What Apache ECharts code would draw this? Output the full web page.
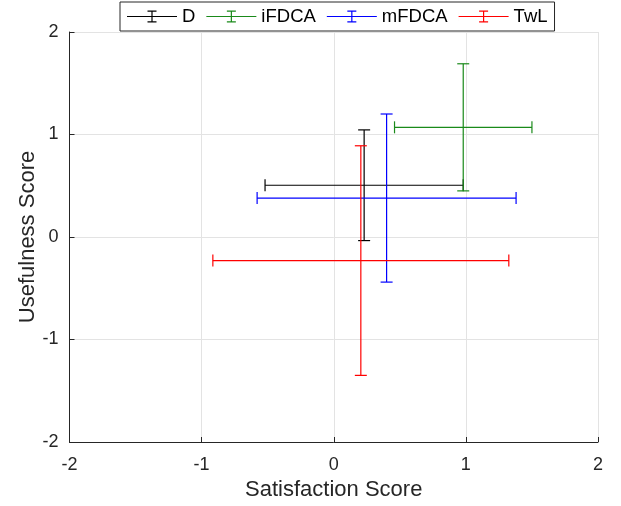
<!DOCTYPE html>
<html><head><meta charset="utf-8">
<script src="https://cdn.jsdelivr.net/npm/echarts@6/dist/echarts.min.js"></script>
<style>html,body{margin:0;padding:0;background:#fff}#c{width:621px;height:506px}</style>
</head><body><div id="c"></div>
<script>
const seriesNames = ['D', 'iFDCA', 'mFDCA', 'TwL'];
const seriesColors = ['#000000', '#1a8a1a', '#0000ff', '#ff0000'];
const xCenter = [0.23, 0.98, 0.40, 0.205];
const yCenter = [0.505, 1.07, 0.38, -0.23];
const xErr = [0.75, 0.52, 0.98, 1.12];
const yErr = [0.54, 0.62, 0.82, 1.12];
const xTicks = [-2, -1, 0, 1, 2];
const yTicks = [-2, -1, 0, 1, 2];
const xTitle = 'Satisfaction Score';
const yTitle = 'Usefulness Score';

const FONT = '"Liberation Sans", Arial, Helvetica, sans-serif';
const AXC = '#262626';

// legend icon: line with an errorbar "I" in the middle (50 x 14 box)
const legendIcon = 'path://M0,6.4L50,6.4L50,7.6L0,7.6Z' +
  'M24.4,1L25.6,1L25.6,13L24.4,13Z' +
  'M20.5,1L29.5,1L29.5,2.3L20.5,2.3Z' +
  'M20.5,11.7L29.5,11.7L29.5,13L20.5,13Z' +
  'M0,0L0.01,0L0.01,14L0,14Z';

function renderItem(params, api) {
  const x = api.value(0), y = api.value(1), ex = api.value(2), ey = api.value(3);
  const color = api.visual('color');
  const l = api.coord([x - ex, y]), r = api.coord([x + ex, y]);
  const t = api.coord([x, y + ey]), b = api.coord([x, y - ey]);
  const cap = 6;
  const st = { stroke: color, lineWidth: 1.2, fill: null };
  const ln = (x1, y1, x2, y2) => ({ type: 'line', shape: { x1, y1, x2, y2 }, style: st });
  return {
    type: 'group',
    children: [
      ln(l[0], l[1], r[0], r[1]),
      ln(l[0], l[1] - cap, l[0], l[1] + cap),
      ln(r[0], r[1] - cap, r[0], r[1] + cap),
      ln(t[0], t[1], b[0], b[1]),
      ln(t[0] - cap, t[1], t[0] + cap, t[1]),
      ln(b[0] - cap, b[1], b[0] + cap, b[1])
    ]
  };
}

const series = seriesNames.map((n, i) => ({
  name: n,
  type: 'custom',
  renderItem: renderItem,
  itemStyle: { color: seriesColors[i] },
  data: [[xCenter[i], yCenter[i], xErr[i], yErr[i]]],
  encode: { x: 0, y: 1 },
  clip: false
}));

function axisCommon(ticks, margin) {
  return {
    type: 'value',
    min: ticks[0], max: ticks[ticks.length - 1], interval: 1,
    axisLine: { show: true, onZero: false, lineStyle: { color: AXC, width: 1 } },
    axisTick: { show: true, inside: true, length: 5, lineStyle: { color: AXC } },
    splitLine: { show: true, lineStyle: { color: '#e3e3e3', width: 1 } },
    nameLocation: 'middle',
    nameTextStyle: { color: AXC, fontSize: 22, fontFamily: FONT },
    axisLabel: { color: AXC, fontSize: 18, fontFamily: FONT, margin: margin,
      formatter: v => (ticks.indexOf(v) >= 0 ? String(v) : '') }
  };
}

const chart = echarts.init(document.getElementById('c'), null, { renderer: 'canvas' });
chart.setOption({
  animation: false,
  backgroundColor: '#ffffff',
  grid: { left: 69.5, right: 23, top: 32, bottom: 63, containLabel: false },
  legend: {
    left: 120, top: 2,
    padding: [5, 7, 5, 7],
    itemWidth: 50, itemHeight: 14, itemGap: 11,
    borderColor: '#262626', borderWidth: 1, backgroundColor: '#ffffff',
    textStyle: { color: '#000000', fontSize: 18.5, fontFamily: FONT },
    itemStyle: { borderWidth: 0 },
    data: seriesNames.map(n => ({ name: n, icon: legendIcon }))
  },
  xAxis: Object.assign(axisCommon(xTicks, 14), { name: xTitle, nameGap: 37 }),
  yAxis: Object.assign(axisCommon(yTicks, 11), { name: yTitle, nameGap: 31, nameMoveOverlap: false }),
  series: series
});
</script></body></html>
